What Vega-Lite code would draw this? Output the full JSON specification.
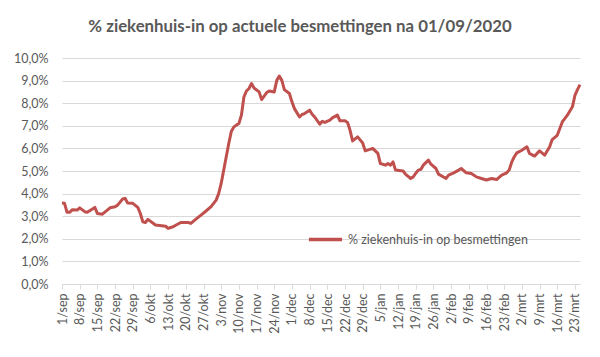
{
  "$schema": "https://vega.github.io/schema/vega-lite/v6.json",
  "width": 518,
  "height": 226,
  "autosize": {"type": "none"},
  "padding": {"left": 62, "top": 58, "right": 20, "bottom": 73},
  "background": "white",
  "title": {
    "text": "% ziekenhuis-in op actuele besmettingen na 01/09/2020",
    "font": "Lato",
    "fontSize": 16.8,
    "fontWeight": "bold",
    "color": "#595959",
    "anchor": "middle",
    "dx": -21,
    "baseline": "alphabetic",
    "offset": 3
  },
  "config": {
    "view": {"stroke": null},
    "axis": {"labelFont": "Lato", "labelColor": "#595959", "labelFontSize": 12.5}
  },
  "data": {"values": [
    {"d": "2020-09-01", "v": 3.58}, {"d": "2020-09-02", "v": 3.57}, {"d": "2020-09-03", "v": 3.17},
    {"d": "2020-09-04", "v": 3.17}, {"d": "2020-09-05", "v": 3.28}, {"d": "2020-09-07", "v": 3.27},
    {"d": "2020-09-08", "v": 3.37}, {"d": "2020-09-10", "v": 3.20}, {"d": "2020-09-11", "v": 3.17},
    {"d": "2020-09-14", "v": 3.39}, {"d": "2020-09-15", "v": 3.12}, {"d": "2020-09-17", "v": 3.09},
    {"d": "2020-09-20", "v": 3.37}, {"d": "2020-09-22", "v": 3.42}, {"d": "2020-09-23", "v": 3.49},
    {"d": "2020-09-25", "v": 3.76}, {"d": "2020-09-26", "v": 3.79}, {"d": "2020-09-27", "v": 3.58},
    {"d": "2020-09-29", "v": 3.57}, {"d": "2020-10-01", "v": 3.39}, {"d": "2020-10-02", "v": 3.12},
    {"d": "2020-10-03", "v": 2.75}, {"d": "2020-10-04", "v": 2.72}, {"d": "2020-10-05", "v": 2.86},
    {"d": "2020-10-08", "v": 2.61}, {"d": "2020-10-12", "v": 2.56}, {"d": "2020-10-13", "v": 2.46},
    {"d": "2020-10-14", "v": 2.50}, {"d": "2020-10-15", "v": 2.53}, {"d": "2020-10-16", "v": 2.60},
    {"d": "2020-10-18", "v": 2.72}, {"d": "2020-10-21", "v": 2.72}, {"d": "2020-10-22", "v": 2.68},
    {"d": "2020-10-24", "v": 2.87}, {"d": "2020-10-26", "v": 3.05}, {"d": "2020-10-28", "v": 3.23},
    {"d": "2020-10-30", "v": 3.42}, {"d": "2020-11-01", "v": 3.71}, {"d": "2020-11-02", "v": 4.00},
    {"d": "2020-11-03", "v": 4.45}, {"d": "2020-11-04", "v": 5.04}, {"d": "2020-11-05", "v": 5.63},
    {"d": "2020-11-06", "v": 6.22}, {"d": "2020-11-07", "v": 6.75}, {"d": "2020-11-08", "v": 6.95},
    {"d": "2020-11-09", "v": 7.03}, {"d": "2020-11-10", "v": 7.10}, {"d": "2020-11-11", "v": 7.47},
    {"d": "2020-11-12", "v": 8.28}, {"d": "2020-11-13", "v": 8.54}, {"d": "2020-11-14", "v": 8.65},
    {"d": "2020-11-15", "v": 8.87}, {"d": "2020-11-16", "v": 8.67}, {"d": "2020-11-18", "v": 8.50},
    {"d": "2020-11-19", "v": 8.16}, {"d": "2020-11-20", "v": 8.31}, {"d": "2020-11-21", "v": 8.47},
    {"d": "2020-11-22", "v": 8.54}, {"d": "2020-11-24", "v": 8.50}, {"d": "2020-11-25", "v": 9.01},
    {"d": "2020-11-26", "v": 9.20}, {"d": "2020-11-27", "v": 9.01}, {"d": "2020-11-28", "v": 8.60},
    {"d": "2020-11-30", "v": 8.43}, {"d": "2020-12-01", "v": 8.06}, {"d": "2020-12-02", "v": 7.76},
    {"d": "2020-12-04", "v": 7.39}, {"d": "2020-12-05", "v": 7.50}, {"d": "2020-12-06", "v": 7.54},
    {"d": "2020-12-08", "v": 7.69}, {"d": "2020-12-09", "v": 7.51}, {"d": "2020-12-10", "v": 7.39},
    {"d": "2020-12-12", "v": 7.07}, {"d": "2020-12-13", "v": 7.20}, {"d": "2020-12-14", "v": 7.15},
    {"d": "2020-12-16", "v": 7.25}, {"d": "2020-12-17", "v": 7.35}, {"d": "2020-12-19", "v": 7.47},
    {"d": "2020-12-20", "v": 7.22}, {"d": "2020-12-22", "v": 7.22}, {"d": "2020-12-23", "v": 7.15},
    {"d": "2020-12-24", "v": 6.80}, {"d": "2020-12-25", "v": 6.33}, {"d": "2020-12-27", "v": 6.51},
    {"d": "2020-12-29", "v": 6.24}, {"d": "2020-12-30", "v": 5.89}, {"d": "2021-01-02", "v": 6.00},
    {"d": "2021-01-04", "v": 5.78}, {"d": "2021-01-05", "v": 5.33}, {"d": "2021-01-07", "v": 5.26},
    {"d": "2021-01-08", "v": 5.33}, {"d": "2021-01-09", "v": 5.26}, {"d": "2021-01-10", "v": 5.40},
    {"d": "2021-01-11", "v": 5.04}, {"d": "2021-01-14", "v": 5.00}, {"d": "2021-01-15", "v": 4.85},
    {"d": "2021-01-17", "v": 4.67}, {"d": "2021-01-18", "v": 4.74}, {"d": "2021-01-19", "v": 4.90},
    {"d": "2021-01-20", "v": 5.04}, {"d": "2021-01-21", "v": 5.07}, {"d": "2021-01-22", "v": 5.26},
    {"d": "2021-01-24", "v": 5.48}, {"d": "2021-01-25", "v": 5.30}, {"d": "2021-01-27", "v": 5.11},
    {"d": "2021-01-28", "v": 4.86}, {"d": "2021-01-31", "v": 4.67}, {"d": "2021-02-01", "v": 4.82},
    {"d": "2021-02-03", "v": 4.92}, {"d": "2021-02-05", "v": 5.04}, {"d": "2021-02-06", "v": 5.11},
    {"d": "2021-02-08", "v": 4.92}, {"d": "2021-02-10", "v": 4.89}, {"d": "2021-02-12", "v": 4.74},
    {"d": "2021-02-14", "v": 4.67}, {"d": "2021-02-16", "v": 4.60}, {"d": "2021-02-18", "v": 4.67},
    {"d": "2021-02-20", "v": 4.62}, {"d": "2021-02-22", "v": 4.82}, {"d": "2021-02-24", "v": 4.92},
    {"d": "2021-02-25", "v": 5.05}, {"d": "2021-02-26", "v": 5.40}, {"d": "2021-02-27", "v": 5.63},
    {"d": "2021-02-28", "v": 5.80}, {"d": "2021-03-02", "v": 5.92}, {"d": "2021-03-04", "v": 6.07},
    {"d": "2021-03-05", "v": 5.78}, {"d": "2021-03-07", "v": 5.66}, {"d": "2021-03-09", "v": 5.89},
    {"d": "2021-03-11", "v": 5.70}, {"d": "2021-03-13", "v": 6.07}, {"d": "2021-03-14", "v": 6.39},
    {"d": "2021-03-16", "v": 6.58}, {"d": "2021-03-18", "v": 7.17}, {"d": "2021-03-20", "v": 7.47},
    {"d": "2021-03-22", "v": 7.84}, {"d": "2021-03-23", "v": 8.35}, {"d": "2021-03-24", "v": 8.60},
    {"d": "2021-03-25", "v": 8.82}
  ]},
  "mark": {"type": "line", "strokeWidth": 3, "strokeJoin": "round"},
  "encoding": {
    "x": {
      "field": "d",
      "type": "temporal",
      "scale": {
        "type": "utc",
        "domain": [
          {"year": 2020, "month": 9, "date": 1, "utc": true},
          {"year": 2021, "month": 3, "date": 25, "utc": true}
        ]
      },
      "axis": {
        "title": null,
        "grid": false,
        "domainColor": "#D9D9D9",
        "tickColor": "#D9D9D9",
        "tickSize": 5,
        "labelAngle": -90,
        "labelPadding": 4,
        "labelOverlap": false,
        "labelFlush": false,
        "values": [
          {"year": 2020, "month": 9, "date": 1, "utc": true},
          {"year": 2020, "month": 9, "date": 8, "utc": true},
          {"year": 2020, "month": 9, "date": 15, "utc": true},
          {"year": 2020, "month": 9, "date": 22, "utc": true},
          {"year": 2020, "month": 9, "date": 29, "utc": true},
          {"year": 2020, "month": 10, "date": 6, "utc": true},
          {"year": 2020, "month": 10, "date": 13, "utc": true},
          {"year": 2020, "month": 10, "date": 20, "utc": true},
          {"year": 2020, "month": 10, "date": 27, "utc": true},
          {"year": 2020, "month": 11, "date": 3, "utc": true},
          {"year": 2020, "month": 11, "date": 10, "utc": true},
          {"year": 2020, "month": 11, "date": 17, "utc": true},
          {"year": 2020, "month": 11, "date": 24, "utc": true},
          {"year": 2020, "month": 12, "date": 1, "utc": true},
          {"year": 2020, "month": 12, "date": 8, "utc": true},
          {"year": 2020, "month": 12, "date": 15, "utc": true},
          {"year": 2020, "month": 12, "date": 22, "utc": true},
          {"year": 2020, "month": 12, "date": 29, "utc": true},
          {"year": 2021, "month": 1, "date": 5, "utc": true},
          {"year": 2021, "month": 1, "date": 12, "utc": true},
          {"year": 2021, "month": 1, "date": 19, "utc": true},
          {"year": 2021, "month": 1, "date": 26, "utc": true},
          {"year": 2021, "month": 2, "date": 2, "utc": true},
          {"year": 2021, "month": 2, "date": 9, "utc": true},
          {"year": 2021, "month": 2, "date": 16, "utc": true},
          {"year": 2021, "month": 2, "date": 23, "utc": true},
          {"year": 2021, "month": 3, "date": 2, "utc": true},
          {"year": 2021, "month": 3, "date": 9, "utc": true},
          {"year": 2021, "month": 3, "date": 16, "utc": true},
          {"year": 2021, "month": 3, "date": 23, "utc": true}
        ],
        "labelExpr": "utcdate(datum.value) + '/' + ['jan','feb','mrt','apr','mei','jun','jul','aug','sep','okt','nov','dec'][utcmonth(datum.value)]"
      }
    },
    "y": {
      "field": "v",
      "type": "quantitative",
      "scale": {"domain": [0, 10], "nice": false},
      "axis": {
        "title": null,
        "values": [0, 1, 2, 3, 4, 5, 6, 7, 8, 9, 10],
        "domain": false,
        "ticks": false,
        "gridColor": "#D9D9D9",
        "labelPadding": 14,
        "labelExpr": "replace(format(datum.value, '.1f'), '.', ',') + '%'"
      }
    },
    "color": {
      "datum": "% ziekenhuis-in op besmettingen",
      "scale": {"range": ["#C0504D"]},
      "legend": {
        "orient": "none",
        "legendX": 245,
        "legendY": 163,
        "title": null,
        "padding": 0,
        "symbolType": "stroke",
        "symbolStrokeWidth": 3.5,
        "symbolSize": 1100,
        "labelFont": "Lato",
        "labelFontSize": 12.5,
        "labelColor": "#595959",
        "labelLimit": 400
      }
    }
  }
}
